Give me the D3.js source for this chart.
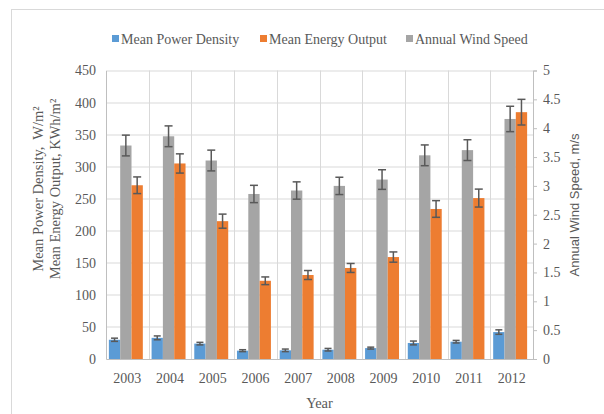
<!DOCTYPE html>
<html>
<head>
<meta charset="utf-8">
<script src="https://cdn.jsdelivr.net/npm/d3@7"></script>
<style>
  body { margin: 0; background: #fff; }
  svg text { font-family: "Liberation Serif", "Times New Roman", "DejaVu Serif", serif; fill: #595959; }
  svg text.sans { font-family: "Liberation Sans", Arial, sans-serif; }
  .grid line { stroke: #d9d9d9; stroke-width: 1; }
  .err line { stroke: #595959; stroke-width: 1.5; }
</style>
</head>
<body>
<div id="chart"></div>
<script>
// data
var years = ["2003", "2004", "2005", "2006", "2007", "2008", "2009", "2010", "2011", "2012"];
var powerDensity = [30, 33, 24, 13, 13.5, 14.5, 17, 25, 27, 42];
var powerErr = [2.5, 3, 2, 1.5, 2, 2, 1.5, 3, 2, 3.5];
var windSpeed = [3.70, 3.86, 3.44, 2.86, 2.92, 3.00, 3.11, 3.53, 3.62, 4.16];
var windErr = [0.18, 0.18, 0.18, 0.15, 0.15, 0.15, 0.17, 0.18, 0.18, 0.22];
var energyOutput = [271, 305, 215, 122, 131, 142, 159, 234, 251, 385];
var energyErr = [13, 15, 11, 6, 7, 7, 8, 13, 14, 20];
var leftTicks = [0, 50, 100, 150, 200, 250, 300, 350, 400, 450];
var rightTicks = [0, 0.5, 1, 1.5, 2, 2.5, 3, 3.5, 4, 4.5, 5];

var W = 604, H = 414;
var margin = {top: 70.5, right: 71, bottom: 55, left: 106};
var width = W - margin.left - margin.right,
    height = H - margin.top - margin.bottom;

var svg = d3.select("#chart").append("svg")
    .attr("width", W)
    .attr("height", H);

// outer chart border
svg.append("rect")
    .attr("x", 11.5).attr("y", 9.5)
    .attr("width", W).attr("height", H)
    .attr("fill", "none").attr("stroke", "#d9d9d9");

var g = svg.append("g")
    .attr("transform", "translate(" + margin.left + "," + margin.top + ")");

var x = d3.scaleBand().domain(years).range([0, width]);
var yL = d3.scaleLinear().domain([0, 450]).range([height, 0]);
var yR = d3.scaleLinear().domain([0, 5]).range([height, 0]);

// grid
var grid = g.append("g").attr("class", "grid");
grid.selectAll(".h").data(leftTicks.slice(1)).enter().append("line")
    .attr("x1", 0).attr("x2", width)
    .attr("y1", function(d) { return Math.round(yL(d)) + 0.5; })
    .attr("y2", function(d) { return Math.round(yL(d)) + 0.5; });
grid.selectAll(".v").data(years.slice(1)).enter().append("line")
    .attr("x1", function(d) { return Math.round(x(d)) + 0.5; })
    .attr("x2", function(d) { return Math.round(x(d)) + 0.5; })
    .attr("y1", 0).attr("y2", height);

// series: blue, gray, orange from left to right inside each year
var bw = x.bandwidth() * 0.265;
var shift = -1.5;
var series = [
  {name: "Mean Power Density", color: "#5b9bd5", vals: powerDensity, err: powerErr, y: yL, capW: 7},
  {name: "Annual Wind Speed", color: "#a5a5a5", vals: windSpeed, err: windErr, y: yR, capW: 8},
  {name: "Mean Energy Output", color: "#ed7d31", vals: energyOutput, err: energyErr, y: yL, capW: 8}
];

series.forEach(function(s, i) {
  var xPos = function(d, j) {
    return x(years[j]) + x.bandwidth() / 2 + shift + (i - 1.5) * bw;
  };
  g.selectAll(".bar" + i).data(s.vals).enter().append("rect")
    .attr("x", xPos)
    .attr("width", bw)
    .attr("y", function(d) { return s.y(d); })
    .attr("height", function(d) { return height - s.y(d); })
    .attr("fill", s.color);

  var eg = g.append("g").attr("class", "err");
  s.vals.forEach(function(v, j) {
    var cx = xPos(v, j) + bw / 2;
    var top = s.y(v + s.err[j]), bot = s.y(v - s.err[j]);
    eg.append("line").attr("x1", cx).attr("x2", cx).attr("y1", top).attr("y2", bot);
    eg.append("line").attr("x1", cx - s.capW / 2).attr("x2", cx + s.capW / 2).attr("y1", top).attr("y2", top);
    eg.append("line").attr("x1", cx - s.capW / 2).attr("x2", cx + s.capW / 2).attr("y1", bot).attr("y2", bot);
  });
});

// axes
var axL = g.append("g")
    .call(d3.axisLeft(yL).tickValues(leftTicks).tickSize(0).tickPadding(10));
axL.select(".domain").attr("stroke", "#bfbfbf");
axL.selectAll("text").attr("font-size", 14);

var axR = g.append("g")
    .attr("transform", "translate(" + width + ",0)")
    .call(d3.axisRight(yR).tickValues(rightTicks).tickSize(4).tickPadding(6).tickSizeOuter(4)
      .tickFormat(function(d) { return d; }));
axR.select(".domain").attr("stroke", "#bfbfbf");
axR.selectAll(".tick line").attr("stroke", "#bfbfbf");
axR.selectAll("text").attr("font-size", 14);

var axB = g.append("g")
    .attr("transform", "translate(0," + height + ")")
    .call(d3.axisBottom(x).tickSize(0).tickPadding(14));
axB.select(".domain").attr("stroke", "#bfbfbf");
axB.selectAll("text").attr("font-size", 14);

// titles
svg.append("text")
    .attr("transform", "translate(43,189) rotate(-90)")
    .attr("text-anchor", "middle")
    .attr("font-size", 14.5)
    .html("Mean Power Density,&#160; W/m²");
svg.append("text")
    .attr("transform", "translate(60,189) rotate(-90)")
    .attr("text-anchor", "middle")
    .attr("font-size", 14.5)
    .text("Mean Energy Output, KWh/m²");

svg.append("text")
    .attr("class", "sans")
    .attr("transform", "translate(579,205) rotate(-90)")
    .attr("text-anchor", "middle")
    .attr("font-size", 13)
    .text("Annual Wind Speed, m/s");

svg.append("text")
    .attr("x", margin.left + width / 2)
    .attr("y", 408)
    .attr("text-anchor", "middle")
    .attr("font-size", 14.5)
    .text("Year");

// legend
var legend = [
  {name: "Mean Power Density", color: "#5b9bd5", x: 112},
  {name: "Mean Energy Output", color: "#ed7d31", x: 260},
  {name: "Annual Wind Speed", color: "#a5a5a5", x: 406}
];
var lg = svg.selectAll(".leg").data(legend).enter().append("g")
    .attr("transform", function(d) { return "translate(" + d.x + ",35)"; });
lg.append("rect").attr("width", 7).attr("height", 7).attr("fill", function(d) { return d.color; });
lg.append("text").attr("x", 9).attr("y", 8.5).attr("font-size", 14)
    .text(function(d) { return d.name; });
</script>
</body>
</html>
